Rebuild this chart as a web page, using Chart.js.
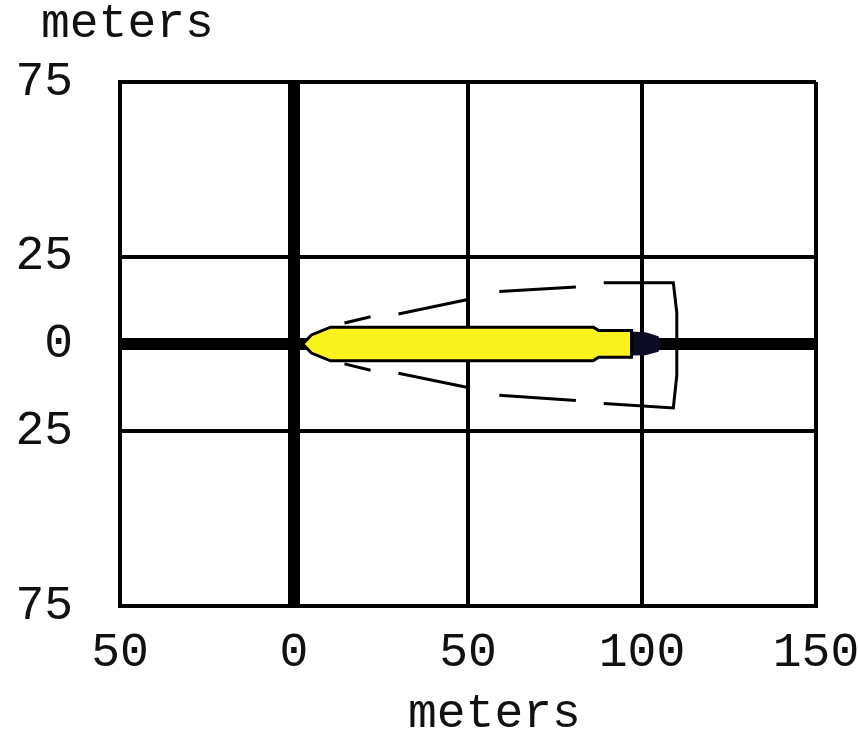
<!DOCTYPE html>
<html><head><meta charset="utf-8">
<script src="https://cdn.jsdelivr.net/npm/chart.js@4/dist/chart.umd.min.js"></script>
<style>html,body{margin:0;padding:0;background:#fff;}</style>
</head><body>
<canvas id="c" width="858" height="731" style="display:block;width:858px;height:731px"></canvas>
<script>
const yTitle = 'meters';
const xTitle = 'meters';
const xTickValues = [-50, 0, 50, 100, 150];
const xTickLabels = ['50', '0', '50', '100', '150'];
const yTickValues = [-75, -25, 0, 25, 75];
const yTickLabels = ['75', '25', '0', '25', '75'];

// yellow threat zone outline (closed)
const zoneX = [2.5, 5, 10.5, 86, 87.5, 97, 97, 87.5, 86, 10.5, 5, 2.5];
const zoneY = [0, 2.6, 4.8, 4.8, 3.9, 3.9, -3.8, -3.8, -4.8, -4.8, -2.6, 0];
// dark end of the zone
const tailX = [96, 101, 104.5, 105.5, 104.5, 101, 96, 96];
const tailY = [3.3, 3.1, 2, 0, -2, -2.9, -3, 3.3];
// dashed confidence line (null = gap)
const confX = [14.5, 22, 26, 30, 50.3, 55, 59, 81, 85, 89, 109, 110, 110, 109, 89, 85, 81, 59, 55, 50.3, 30, 26, 22, 14.5];
const confY = [6.0, 7.8, null, 8.6, 12.8, null, 15.0, 16.3, null, 17.5, 17.5, 9, -9, -18.3, -17.0, null, -16.2, -14.7, null, -12.5, -8.4, null, -7.5, -5.7];

const FONT = "'Liberation Mono', 'DejaVu Sans Mono', monospace";
const pts = (xs, ys) => xs.map((x, i) => ({x: x, y: ys[i]}));
const closed = (xs, ys) => { const p = pts(xs, ys); p.push({x: xs[0], y: ys[0]}); return p; };

const axisTitles = {
  id: 'axisTitles',
  afterDraw(chart) {
    const ctx = chart.ctx;
    ctx.save();
    ctx.font = '48px ' + FONT;
    ctx.fillStyle = '#111';
    ctx.textAlign = 'left';
    ctx.textBaseline = 'alphabetic';
    ctx.fillText(yTitle, 41, 37);
    ctx.fillText(xTitle, 408, 727);
    ctx.restore();
  }
};

new Chart(document.getElementById('c'), {
  type: 'scatter',
  data: {
    datasets: [
      {
        label: 'zone',
        data: closed(zoneX, zoneY),
        showLine: true,
        fill: 'shape',
        backgroundColor: 'rgb(250,242,30)',
        borderColor: '#000',
        borderWidth: 3,
        pointRadius: 0,
        tension: 0
      },
      {
        label: 'tail',
        data: pts(tailX, tailY),
        showLine: true,
        fill: 'shape',
        backgroundColor: '#0a0a20',
        borderColor: '#0a0a20',
        borderWidth: 2,
        pointRadius: 0
      },
      {
        label: 'confidence',
        data: pts(confX, confY),
        showLine: true,
        spanGaps: false,
        fill: false,
        borderColor: '#000',
        borderWidth: 3,
        pointRadius: 0,
        tension: 0
      }
    ]
  },
  options: {
    responsive: false,
    animation: false,
    layout: {autoPadding: false, padding: {left: 0, right: 42, top: 82, bottom: 0}},
    plugins: {
      legend: {display: false},
      tooltip: {enabled: false},
      title: {display: false}
    },
    scales: {
      x: {
        type: 'linear',
        min: -50, max: 150,
        z: 1,
        afterBuildTicks: s => { s.ticks = xTickValues.map(v => ({value: v})); },
        afterFit: s => { s.height = 125; s.paddingLeft = 0; s.paddingRight = 0; },
        grid: {
          color: '#000',
          lineWidth: c => (c.tick && c.tick.value === 0) ? 12 : 4,
          drawTicks: false
        },
        border: {display: true, color: '#000', width: 4},
        ticks: {
          color: '#111',
          font: {family: FONT, size: 48},
          padding: 18,
          maxRotation: 0,
          autoSkip: false,
          callback: v => xTickLabels[xTickValues.indexOf(v)]
        }
      },
      y: {
        type: 'linear',
        min: -75, max: 75,
        z: 1,
        afterBuildTicks: s => { s.ticks = yTickValues.map(v => ({value: v})); },
        afterFit: s => { s.width = 120; s.paddingTop = 0; s.paddingBottom = 0; },
        grid: {
          color: '#000',
          lineWidth: c => (c.tick && c.tick.value === 0) ? 12 : 4,
          drawTicks: false
        },
        border: {display: true, color: '#000', width: 4},
        ticks: {
          color: '#111',
          font: {family: FONT, size: 48},
          padding: 47,
          autoSkip: false,
          callback: v => yTickLabels[yTickValues.indexOf(v)]
        }
      }
    }
  },
  plugins: [axisTitles]
});
</script>
</body></html>
